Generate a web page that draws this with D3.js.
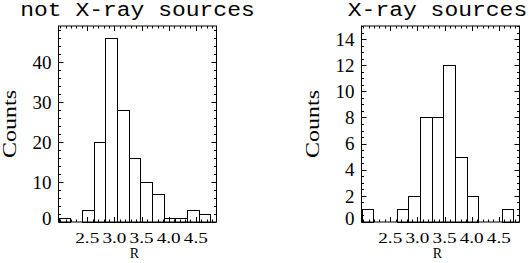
<!DOCTYPE html>
<html>
<head>
<meta charset="utf-8">
<script src="https://cdn.jsdelivr.net/npm/d3@7"></script>
<style>
  body { margin: 0; background: #fff; }
  svg { display: block; }
</style>
</head>
<body>
<div id="chart"></div>
<script>
// bin edges in R (shared by both histograms)
const rEdges = [1.97, 2.185, 2.40, 2.615, 2.83, 3.045, 3.26, 3.475, 3.69, 3.905, 4.12, 4.335, 4.55, 4.765];
// counts per bin
const notXray = [1, 0, 3, 20, 46, 28, 16, 10, 7, 1, 1, 3, 2];
const xray = [1, 0, 0, 1, 2, 8, 8, 12, 5, 2, 0, 0, 1];
const titles = ['not X-ray sources', 'X-ray sources'];
const xTicks = [2.5, 3.0, 3.5, 4.0, 4.5];
const yTicksLeft = [0, 10, 20, 30, 40];
const yTicksRight = [0, 2, 4, 6, 8, 10, 12, 14];

const W = 529, H = 263;
const svg = d3.select('#chart').append('svg')
  .attr('width', W)
  .attr('height', H);

const panels = [
  { left: 58.5, counts: notXray, ymax: 49, yticks: yTicksLeft, yminor: 2, title: titles[0] },
  { left: 361.5, counts: xray, ymax: 15, yticks: yTicksRight, yminor: 0.5, title: titles[1] }
];

const pw = 158, plotTop = 26, plotBottom = 222;
const serif = '"Liberation Serif", "DejaVu Serif", serif';

panels.forEach((p, pi) => {
  const x = d3.scaleLinear().domain([1.97, 4.88]).range([p.left, p.left + pw]);
  const y = d3.scaleLinear().domain([0, p.ymax]).range([plotBottom, plotTop]);
  const g = svg.append('g');

  // bars
  const bins = p.counts.map((c, i) => ({ x0: rEdges[i], x1: rEdges[i + 1], c }));
  g.selectAll('rect.bar')
    .data(bins)
    .enter().append('rect')
    .attr('class', 'bar')
    .attr('x', d => Math.round(x(d.x0)) + 0.5)
    .attr('width', d => Math.round(x(d.x1)) - Math.round(x(d.x0)))
    .attr('y', d => Math.round(y(d.c)) + 0.5)
    .attr('height', d => Math.round(y(0)) - Math.round(y(d.c)))
    .attr('fill', 'none')
    .attr('stroke', '#000')
    .attr('stroke-width', 1);

  // frame
  g.append('rect')
    .attr('x', p.left)
    .attr('y', plotTop)
    .attr('width', pw)
    .attr('height', plotBottom - plotTop)
    .attr('fill', 'none')
    .attr('stroke', '#000')
    .attr('stroke-width', 1);

  // x ticks, bottom and top, inward
  const xMinor = d3.range(2.0, 4.881, 0.1);
  const tk = g.append('g').attr('stroke', '#000').attr('stroke-width', 1);
  xMinor.forEach(v => {
    const major = xTicks.some(t => Math.abs(t - v) < 1e-6);
    const len = major ? 5 : 2.5;
    const px = Math.round(x(v)) + 0.5;
    tk.append('line').attr('x1', px).attr('x2', px).attr('y1', plotBottom).attr('y2', plotBottom - len);
    tk.append('line').attr('x1', px).attr('x2', px).attr('y1', plotTop).attr('y2', plotTop + len);
  });

  // y ticks, left and right, inward
  d3.range(0, p.ymax + 1e-6, p.yminor).forEach(v => {
    const major = p.yticks.includes(v);
    const len = major ? 5 : 2.5;
    const py = Math.round(y(v)) + 0.5;
    tk.append('line').attr('x1', p.left).attr('x2', p.left + len).attr('y1', py).attr('y2', py);
    tk.append('line').attr('x1', p.left + pw).attr('x2', p.left + pw - len).attr('y1', py).attr('y2', py);
  });

  // x tick labels
  g.selectAll('text.xl')
    .data(xTicks)
    .enter().append('text')
    .attr('class', 'xl')
    .attr('x', d => x(d) - 12)
    .attr('y', 242.5)
    .attr('font-family', serif)
    .attr('font-size', 15)
    .attr('textLength', 24)
    .attr('lengthAdjust', 'spacingAndGlyphs')
    .attr('fill', '#000')
    .text(d => d.toFixed(1));

  // y tick labels
  g.selectAll('text.yl')
    .data(p.yticks)
    .enter().append('text')
    .attr('class', 'yl')
    .attr('x', p.left - 7)
    .attr('y', d => y(d) - (d === 0 ? 3.5 : 0))
    .attr('dy', '0.35em')
    .attr('text-anchor', 'end')
    .attr('font-family', serif)
    .attr('font-size', 19)
    .attr('fill', '#000')
    .text(d => d);

  // axis titles
  g.append('text')
    .attr('x', p.left + pw / 2 - 3)
    .attr('y', 258)
    .attr('text-anchor', 'middle')
    .attr('font-family', serif)
    .attr('font-size', 14)
    .attr('fill', '#000')
    .text('R');

  g.append('text')
    .attr('transform', `translate(${p.left - 42.5},${(plotTop + plotBottom) / 2}) rotate(-90)`)
    .attr('x', -34)
    .attr('font-family', serif)
    .attr('font-size', 19)
    .attr('textLength', 68)
    .attr('lengthAdjust', 'spacingAndGlyphs')
    .attr('fill', '#000')
    .text('Counts');

  // panel title, centred over the frame
  const tw = p.title.length * 13.8;
  g.append('text')
    .attr('x', p.left + pw / 2 - tw / 2 - (pi === 1 ? 3 : 0))
    .attr('y', 16)
    .attr('font-family', '"Liberation Mono", "DejaVu Sans Mono", monospace')
    .attr('font-size', 20)
    .attr('textLength', tw)
    .attr('lengthAdjust', 'spacingAndGlyphs')
    .attr('fill', '#000')
    .text(p.title);
});
</script>
</body>
</html>
